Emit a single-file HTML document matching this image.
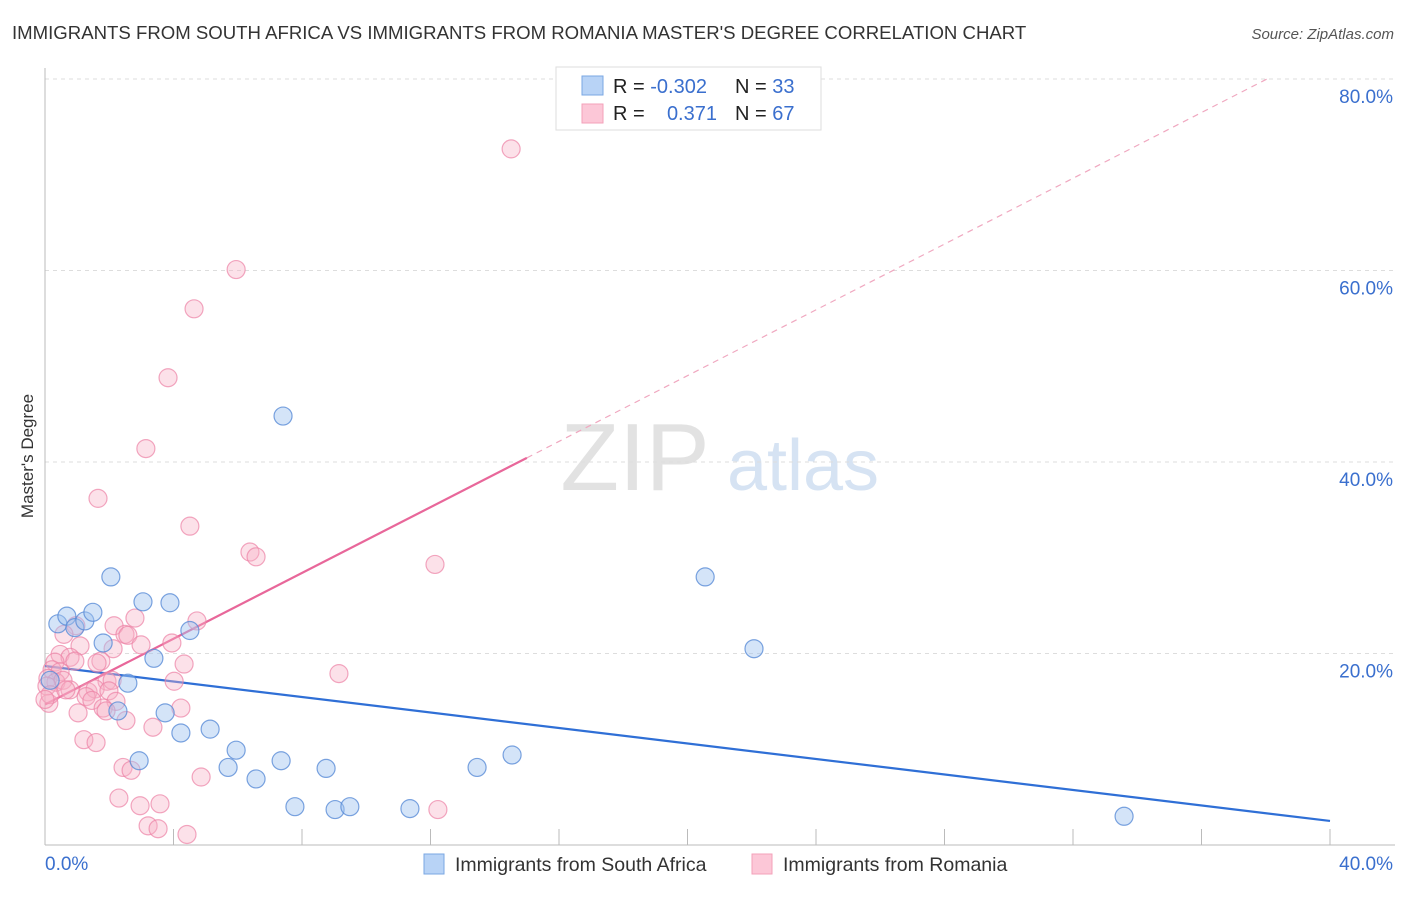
<!DOCTYPE html>
<html><head><meta charset="utf-8"><style>
body{margin:0;background:#fff;font-family:"Liberation Sans",sans-serif;}
svg text{font-family:"Liberation Sans",sans-serif;}
</style></head><body>
<svg id="chart" width="1406" height="892" viewBox="0 0 1406 892" xmlns="http://www.w3.org/2000/svg">
<text x="12" y="39" font-size="18.6" fill="#333">IMMIGRANTS FROM SOUTH AFRICA VS IMMIGRANTS FROM ROMANIA MASTER'S DEGREE CORRELATION CHART</text>
<text x="1394" y="39" font-size="15" fill="#555" font-style="italic" text-anchor="end">Source: ZipAtlas.com</text>
<text transform="translate(33,456) rotate(-90)" font-size="17" fill="#333" text-anchor="middle">Master's Degree</text>
<g>
<text x="635" y="490" font-size="96" fill="#e2e2e2" font-family="Liberation Serif,serif" text-anchor="middle">ZIP</text>
<text x="803" y="490" font-size="72" fill="#d6e3f3" text-anchor="middle">atlas</text>
</g>
<g id="grid"></g>
<g id="axes"></g>
<g id="lines"></g>
<g id="points"></g>
<g>
<rect x="556" y="67" width="265" height="63" fill="#fff" stroke="#ddd"/>
<rect x="582" y="76" width="21" height="19" fill="#b8d3f6" stroke="#7aa7e3"/>
<rect x="582" y="104" width="21" height="19" fill="#fcc7d7" stroke="#f3a1ba"/>
<text x="613" y="93" font-size="20" fill="#222">R = <tspan fill="#3a6fce">-0.302</tspan></text>
<text x="735" y="93" font-size="20" fill="#222">N = <tspan fill="#3a6fce">33</tspan></text>
<text x="613" y="120" font-size="20" fill="#222">R = </text>
<text x="717" y="120" font-size="20" fill="#3a6fce" text-anchor="end">0.371</text>
<text x="735" y="120" font-size="20" fill="#222">N = <tspan fill="#3a6fce">67</tspan></text>
</g>
<g>
<rect x="424" y="854" width="20" height="20" fill="#b8d3f6" stroke="#7aa7e3"/>
<text x="455" y="871" font-size="19.5" fill="#333">Immigrants from South Africa</text>
<rect x="752" y="854" width="20" height="20" fill="#fcc7d7" stroke="#f3a1ba"/>
<text x="783" y="871" font-size="19.5" fill="#333">Immigrants from Romania</text>
</g>
</svg>
<script>
const xTicks=[0,4,8,12,16,20,24,28,32,36,40];
const yTicks=[20,40,60,80];
const yTickLabels=["20.0%","40.0%","60.0%","80.0%"];
const blueX=[0.40,0.68,0.93,1.24,1.49,1.81,2.05,2.27,2.58,2.93,3.05,3.39,3.74,3.89,4.23,4.51,5.14,5.70,5.95,6.57,7.35,7.41,7.78,8.75,9.03,9.49,11.36,13.45,14.54,20.55,22.07,33.59,0.16];
const blueY=[23.1,23.9,22.7,23.4,24.3,21.1,28.0,14.0,16.9,8.8,25.4,19.5,13.8,25.3,11.7,22.4,12.1,8.1,9.9,6.9,8.8,44.8,4.0,8.0,3.7,4.0,3.8,8.1,9.4,28.0,20.5,3.0,17.2];
const pinkX=[14.51,5.95,4.64,3.83,3.14,1.65,4.51,6.38,6.57,12.14,4.73,2.80,2.15,2.49,2.58,2.99,3.95,0.96,0.59,1.09,2.12,0.47,0.78,0.31,0.93,1.74,4.33,0.22,0.47,9.15,0.09,0.34,0.56,1.93,2.09,4.02,0.78,1.34,1.56,1.99,1.28,1.46,2.21,0.12,1.81,1.90,4.23,1.03,2.52,3.36,1.21,1.59,2.43,2.68,4.86,2.30,2.96,3.58,12.23,3.21,3.52,4.42,0.06,0.16,0.0,1.62,0.65];
const pinkY=[72.7,60.1,56.0,48.8,41.4,36.2,33.3,30.6,30.1,29.3,23.4,23.7,22.9,22.0,21.9,20.9,21.1,22.9,22.0,20.8,20.5,19.9,19.6,19.1,19.2,19.2,18.9,18.3,18.1,17.9,17.4,17.0,17.2,17.1,17.2,17.1,16.2,16.0,16.3,16.1,15.5,15.1,15.0,14.8,14.3,14.0,14.3,13.8,13.0,12.3,11.0,10.7,8.1,7.8,7.1,4.9,4.1,4.3,3.7,2.0,1.7,1.1,16.6,15.7,15.2,19.0,16.2];

const X0=45,X1=1330,Y0=845,PY=191.5/20;
const sx=v=>X0+(v/40)*(X1-X0);
const sy=v=>Y0-v*PY;
const NS="http://www.w3.org/2000/svg";
function mk(tag,attrs,parent){const e=document.createElementNS(NS,tag);for(const k in attrs)e.setAttribute(k,attrs[k]);parent.appendChild(e);return e;}
const grid=document.getElementById('grid'),axes=document.getElementById('axes'),lines=document.getElementById('lines'),pts=document.getElementById('points');
yTicks.forEach((t,i)=>{
 const l=mk('line',{x1:X0,x2:1395,y1:sy(t),y2:sy(t),stroke:'#ddd','stroke-dasharray':'4,4'},grid);
 
 
 const tx=mk('text',{x:1393,y:sy(t)+24,'font-size':19,fill:'#3a6fce','text-anchor':'end'},axes);
 tx.textContent=yTickLabels[i];
 
 
});
const ya=mk('line',{x1:X0,x2:X0,y1:68,y2:Y0,stroke:'#bbb'},axes);


const xa=mk('line',{x1:X0,x2:X1+65,y1:Y0,y2:Y0,stroke:'#bbb'},axes);


xTicks.forEach(t=>{
 const l=mk('line',{x1:sx(t),x2:sx(t),y1:Y0-16,y2:Y0,stroke:'#bbb'},axes);
 
 
});
[[0,"0.0%","start",45],[40,"40.0%","end",1393]].forEach(a=>{
 const tx=mk('text',{x:a[3],y:870,'font-size':19,fill:'#3a6fce','text-anchor':a[2]},axes);
 tx.textContent=a[1];
 
 
});
function fit(xs,ys){const n=xs.length;let mx=0,my=0;for(let i=0;i<n;i++){mx+=xs[i];my+=ys[i];}mx/=n;my/=n;let sxy=0,sxx=0;for(let i=0;i<n;i++){sxy+=(xs[i]-mx)*(ys[i]-my);sxx+=(xs[i]-mx)**2;}const b=sxy/sxx;return [my-b*mx,b];}
function drawPts(xs,ys,fill,stroke,name){xs.forEach((x,i)=>{const c=mk('circle',{cx:sx(x),cy:sy(ys[i]),r:9,fill:fill,stroke:stroke,'stroke-width':1.2},pts);
 
 });}
drawPts(pinkX,pinkY,'rgba(248,175,198,0.38)','rgba(236,130,165,0.7)','romania-point');
drawPts(blueX,blueY,'rgba(160,196,240,0.45)','rgba(90,140,215,0.8)','south-africa-point');
const fb=fit(blueX,blueY);
const bl=mk('line',{x1:sx(0),y1:sy(fb[0]),x2:sx(40),y2:sy(fb[0]+40*fb[1]),stroke:'#2f6fd6','stroke-width':2.2},lines);


const fp=fit(pinkX,pinkY);
const xe=Math.ceil(Math.max(...pinkX));
const pl=mk('line',{x1:sx(0),y1:sy(fp[0]),x2:sx(xe),y2:sy(fp[0]+xe*fp[1]),stroke:'#e8679a','stroke-width':2.2},lines);


const xEnd=Math.min(40,(80-fp[0])/fp[1]);
const pd=mk('line',{x1:sx(xe),y1:sy(fp[0]+xe*fp[1]),x2:sx(xEnd),y2:sy(fp[0]+xEnd*fp[1]),stroke:'#f0a8c0','stroke-width':1.2,'stroke-dasharray':'6,5'},lines);


</script>
</body></html>
